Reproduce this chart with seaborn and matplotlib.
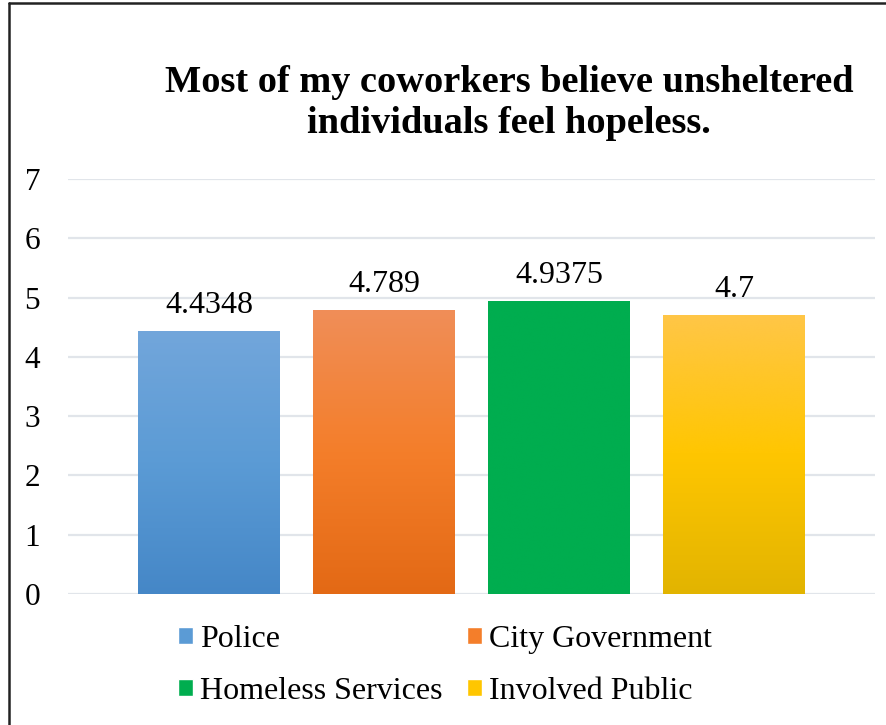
import numpy as np
import pandas as pd
import matplotlib
matplotlib.use("Agg")
import matplotlib.pyplot as plt
from matplotlib.colors import LinearSegmentedColormap
from matplotlib.lines import Line2D
import seaborn as sns

categories = ["Police", "City Government", "Homeless Services", "Involved Public"]
values = [4.4348, 4.789, 4.9375, 4.7]
y_ticks = [0, 1, 2, 3, 4, 5, 6, 7]
title = "Most of my coworkers believe unsheltered\nindividuals feel hopeless."

# top / middle / bottom shades used for each bar's vertical gradient
base_colors = ["#5B9BD5", "#F47E2A", "#00AD4F", "#FFC600"]
gradients = [
    ["#72A6DB", "#5B9BD5", "#4587C7"],
    ["#F08E58", "#F47E2A", "#E36915"],
    ["#00AD4F", "#00AD4F", "#00AD4F"],
    ["#FFC647", "#FFC600", "#E2B400"],
]

sns.set_theme(style="white")
plt.rcParams["font.family"] = ["Liberation Serif", "DejaVu Serif"]
plt.rcParams["text.color"] = "black"

df = pd.DataFrame({"group": categories, "score": values})

fig = plt.figure(figsize=(8.86, 7.25), dpi=100)
ax = fig.add_axes([68 / 886, 1 - 594 / 725, (875 - 68) / 886, (594 - 179) / 725])

sns.barplot(data=df, x="group", y="score", hue="group", order=categories,
            hue_order=categories, palette=base_colors, width=0.81,
            dodge=False, legend=True, ax=ax, saturation=1)

handles, labels = ax.get_legend_handles_labels()
if ax.get_legend() is not None:
    ax.get_legend().remove()

# vertical gradient fill clipped to each bar
for patch, stops in zip(ax.patches, gradients):
    x0 = patch.get_x()
    w = patch.get_width()
    h = patch.get_height()
    if h <= 0:
        continue
    cmap = LinearSegmentedColormap.from_list("g", stops[::-1])
    grad = np.linspace(0, 1, 256).reshape(-1, 1)
    im = ax.imshow(grad, cmap=cmap, extent=(x0, x0 + w, 0, h), origin="lower",
                   aspect="auto", zorder=patch.get_zorder() + 0.1,
                   interpolation="bicubic")
    im.set_clip_path(patch)
    patch.set_edgecolor("none")

ax.set_xlim(-0.806, 3.806)
ax.set_ylim(0, 7)
ax.set_yticks(y_ticks)
ax.set_yticklabels([str(t) for t in y_ticks])
ax.tick_params(axis="y", labelsize=22.5, pad=20, length=0, colors="black")
ax.set_xticks([])
ax.set_xlabel("")
ax.set_ylabel("")
ax.yaxis.grid(True, color="#E1E5EA", linewidth=1.6)
ax.set_axisbelow(True)
for s in ax.spines.values():
    s.set_visible(False)

# value labels above bars
for patch, v in zip(ax.patches, values):
    ax.annotate(f"{v:g}", (patch.get_x() + patch.get_width() / 2, v),
                xytext=(0, 13), textcoords="offset points",
                ha="center", va="baseline", fontsize=23, color="black")

fig.text(509 / 886, 1 - 133 / 725, title, ha="center", va="baseline",
         fontsize=27.6, fontweight="bold", linespacing=1.22, color="black",
         multialignment="center")

# legend filled row by row: Police, City Government / Homeless Services, Involved Public
order = [0, 2, 1, 3]
fig.legend([handles[i] for i in order], [labels[i] for i in order],
           loc="upper left", bbox_to_anchor=(178 / 886, 1 - 625 / 725), ncol=2,
           frameon=False, fontsize=23, handlelength=0.47, handleheight=0.47,
           handletextpad=0.22, columnspacing=0.75, labelspacing=0.72,
           borderpad=0, borderaxespad=0, labelcolor="black")

# outer frame (top and left edges)
fig.add_artist(Line2D([8.5 / 886, 8.5 / 886], [0, 1 - 3 / 725],
                      transform=fig.transFigure, color="#222222", linewidth=1.8))
fig.add_artist(Line2D([8.5 / 886, 1], [1 - 3 / 725, 1 - 3 / 725],
                      transform=fig.transFigure, color="#222222", linewidth=1.8))

fig.savefig("out.png", dpi=100, facecolor="white")
